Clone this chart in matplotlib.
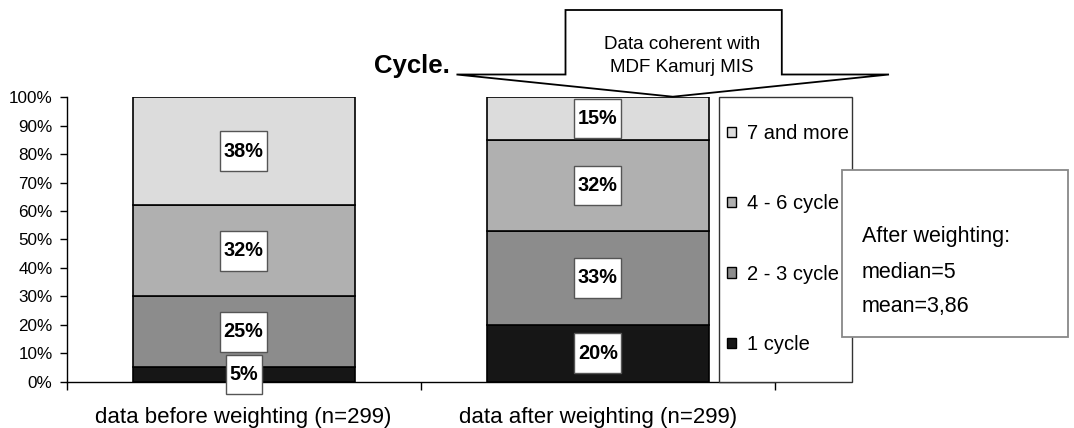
import numpy as np
import matplotlib
matplotlib.use("Agg")
import matplotlib.pyplot as plt
from matplotlib.patches import Patch, Rectangle, Polygon
from matplotlib.path import Path

plt.rcParams['font.family'] = ['Liberation Sans', 'DejaVu Sans']

""" Data """
categories = ["data before weighting (n=299)", "data after weighting (n=299)"]
series_names = ["1 cycle", "2 - 3 cycle", "4 - 6 cycle", "7 and more"]
one_cycle = [5, 20]
two_three_cycle = [25, 33]
four_six_cycle = [32, 32]
seven_more = [38, 15]
series_colors = ["#161616", "#8c8c8c", "#b0b0b0", "#dcdcdc"]
yticks = [0, 10, 20, 30, 40, 50, 60, 70, 80, 90, 100]
callout_lines = ["Data coherent with", "MDF Kamurj MIS"]
info_lines = ["After weighting:", "median=5", "mean=3,86"]

W, H = 1074, 428


def fx(px):
    return px / W


def fy(py):
    return 1 - py / H


def label_box(x0, y0, width, height, mutation_size):
    # plain rectangle, wider vertical padding than horizontal
    px = 0.18 * mutation_size
    py = 0.52 * mutation_size
    verts = [(x0 - px, y0 - py), (x0 + width + px, y0 - py),
             (x0 + width + px, y0 + height + py), (x0 - px, y0 + height + py),
             (x0 - px, y0 - py)]
    return Path(verts, closed=True)


fig = plt.figure(figsize=(W / 100, H / 100), dpi=100)
ax = fig.add_axes([fx(66.5), fy(381.5), fx(775) - fx(66.5), fy(97.3) - fy(381.5)])

x = np.arange(len(categories))
bar_w = 0.627
stack = [one_cycle, two_three_cycle, four_six_cycle, seven_more]
bottom = np.zeros(len(categories))
for vals, name, col in zip(stack, series_names, series_colors):
    vals = np.array(vals, dtype=float)
    ax.bar(x, vals, bar_w, bottom=bottom, color=col, edgecolor="black",
           linewidth=1.2, label=name, zorder=2)
    for xi, b, v in zip(x, bottom, vals):
        ax.text(xi, b + v / 2, f"{int(v)}%", ha="center", va="center",
                fontsize=14.3, fontweight="bold", zorder=6, clip_on=False,
                bbox=dict(boxstyle=label_box, facecolor="white",
                          edgecolor="#555555", linewidth=1))
    bottom += vals

ax.set_xlim(-0.5, 1.5)
ax.set_ylim(0, 100)
ax.set_yticks(yticks)
ax.set_yticklabels([f"{t}%" for t in yticks])
ax.set_xticks(x)
ax.set_xticklabels(categories, fontsize=16)
ax.set_xticks([-0.5, 0.5, 1.5], minor=True)
ax.tick_params(axis="x", which="major", length=0, pad=18)
ax.tick_params(axis="x", which="minor", length=6, width=1, direction="out")
ax.tick_params(axis="y", length=5, width=1, direction="out", labelsize=12.3, pad=5)
for side in ["top", "right"]:
    ax.spines[side].set_visible(False)
for side in ["left", "bottom"]:
    ax.spines[side].set_linewidth(1)
    ax.spines[side].set_color("black")

# legend frame drawn by hand so it can span the full plot height
x0_leg = (718.8 - 66.5) / 708.5
x1_leg = (851.7 - 66.5) / 708.5
ax.add_patch(Rectangle((x0_leg, 0), x1_leg - x0_leg, 1, transform=ax.transAxes,
                       facecolor="white", edgecolor="#333333", linewidth=1,
                       clip_on=False, zorder=4))
handles = [Patch(facecolor=c, edgecolor="black", linewidth=1) for c in series_colors[::-1]]
leg = ax.legend(handles, series_names[::-1], loc="upper left",
                bbox_to_anchor=((727.3 - 66.5) / 708.5, (381.5 - 124) / 284.2),
                frameon=False, fontsize=14.5, borderpad=0, borderaxespad=0,
                handlelength=0.43, handleheight=0.43, handletextpad=0.53,
                labelspacing=2.55)
leg.set_zorder(5)

# summary box on the right
fig.add_artist(Rectangle((fx(841.7), fy(336.7)), fx(1068) - fx(841.7), fy(170) - fy(336.7),
                         transform=fig.transFigure, facecolor="white",
                         edgecolor="#888888", linewidth=1.3, zorder=10))
for line, py in zip(info_lines, [236.7, 272.7, 306.7]):
    fig.text(fx(861.7), fy(py), line, fontsize=15.5, ha="left", va="center", zorder=11)

# callout pointing at the weighted bar
callout = [(565.5, 10), (781.8, 10), (781.8, 74.5), (889, 74.5),
           (672.8, 96.7), (456.5, 74.5), (565.5, 74.5)]
fig.add_artist(Polygon([(fx(a), fy(b)) for a, b in callout], closed=True,
                       transform=fig.transFigure, facecolor="white",
                       edgecolor="black", linewidth=1.3, zorder=10))
for line, py in zip(callout_lines, [49, 72]):
    fig.text(fx(682), fy(py), line, fontsize=13.5, ha="center", va="baseline", zorder=11)

fig.text(fx(373.6), fy(72.7), "Cycle.", fontsize=18.5, fontweight="bold",
         ha="left", va="baseline")

fig.savefig("out.png", dpi=100)
